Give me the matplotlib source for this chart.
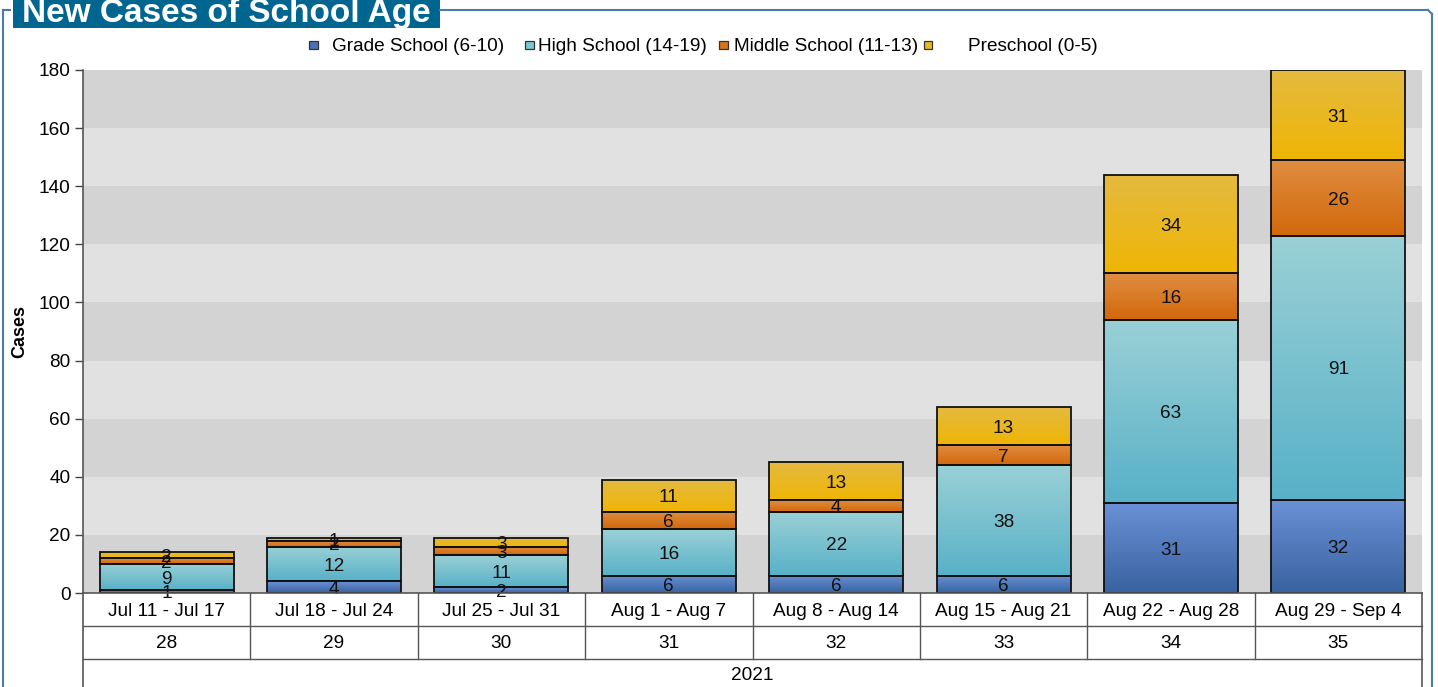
import numpy as np
import matplotlib
matplotlib.use("Agg")
import matplotlib.pyplot as plt
from matplotlib.patches import Rectangle
from matplotlib.colors import LinearSegmentedColormap

plt.rcParams['font.family'] = ['Liberation Sans', 'DejaVu Sans']

weeks = ["Jul 11 - Jul 17", "Jul 18 - Jul 24", "Jul 25 - Jul 31", "Aug 1 - Aug 7",
         "Aug 8 - Aug 14", "Aug 15 - Aug 21", "Aug 22 - Aug 28", "Aug 29 - Sep 4"]
week_numbers = ["28", "29", "30", "31", "32", "33", "34", "35"]
year_label = "2021"
series_names = ["Grade School (6-10)", "High School (14-19)", "Middle School (11-13)", "Preschool (0-5)"]
grade_school = [1, 4, 2, 6, 6, 6, 31, 32]
high_school = [9, 12, 11, 16, 22, 38, 63, 91]
middle_school = [2, 2, 3, 6, 4, 7, 16, 26]
preschool = [2, 1, 3, 11, 13, 13, 34, 31]
yticks = [0, 20, 40, 60, 80, 100, 120, 140, 160, 180]

series = [grade_school, high_school, middle_school, preschool]
# (top colour, bottom colour) of each gradient
grads = [("#6b90d6", "#3963a0"), ("#9ad0d6", "#58b1c8"),
         ("#e08d40", "#d2680c"), ("#e4ba40", "#efb505")]
legend_cols = ["#4a72b8", "#7ec6d2", "#d9741c", "#eab820"]

FS = 13.7
HALF_CAP_PT = 4.8  # half cap height in points, to centre digits/caps

W, H = 1438, 687
fig = plt.figure(figsize=(W / 100, H / 100), dpi=100)

def fx(x):
    return x / W

def fy(y):
    return 1 - y / H

ax_l, ax_r, ax_t, ax_b = 83, 1422, 70, 593
ax = fig.add_axes([fx(ax_l), fy(ax_b), fx(ax_r) - fx(ax_l), fy(ax_t) - fy(ax_b)])
ax.set_xlim(-0.5, len(weeks) - 0.5)
ax.set_ylim(0, 180)

# alternating bands
for i in range(len(yticks) - 1):
    ax.axhspan(yticks[i], yticks[i + 1], color="#d3d3d3" if i % 2 == 0 else "#e1e1e1",
               zorder=0, lw=0)

x = np.arange(len(weeks))
bw = 0.8
bottom = np.zeros(len(weeks))
for k, vals in enumerate(series):
    vals = np.array(vals, dtype=float)
    bars = ax.bar(x, vals, bw, bottom=bottom, facecolor="none", edgecolor="#111111",
                  linewidth=1.3, zorder=3)
    cmap = LinearSegmentedColormap.from_list("g%d" % k, [grads[k][1], grads[k][0]])
    for b, v, b0 in zip(bars, vals, bottom):
        x0 = b.get_x()
        grad = np.linspace(0, 1, 64).reshape(-1, 1)
        im = ax.imshow(grad, cmap=cmap, origin="lower", aspect="auto",
                       extent=[x0, x0 + bw, b0, b0 + v], zorder=2, interpolation="bilinear")
        im.set_clip_path(b)
        ax.annotate("%d" % v, (b.get_x() + bw / 2, b0 + v / 2), xytext=(0, -HALF_CAP_PT),
                    textcoords="offset points", ha="center", va="baseline",
                    fontsize=FS, color="#111111", zorder=5)
    bottom += vals

ax.set_xlim(-0.5, len(weeks) - 0.5)
ax.set_ylim(0, 180)
ax.set_yticks(yticks)
ax.set_yticklabels([str(t) for t in yticks], fontsize=FS)
ax.tick_params(axis="y", length=6, width=1, color="#444444", pad=3)
ax.set_xticks([])
for s in ["top", "right", "bottom"]:
    ax.spines[s].set_visible(False)
ax.spines["left"].set_color("#555555")
ax.spines["left"].set_linewidth(1.2)
fig.text(fx(20), fy(331), "Cases", rotation=90, ha="center", va="center",
         fontsize=13, fontweight="bold")

# category table below the axis
line_c = "#555555"
fig.add_artist(plt.Line2D([fx(ax_l), fx(ax_r)], [fy(593), fy(593)], color=line_c, lw=1.2))
fig.add_artist(plt.Line2D([fx(ax_l), fx(ax_r)], [fy(626), fy(626)], color=line_c, lw=1))
fig.add_artist(plt.Line2D([fx(ax_l), fx(ax_r)], [fy(659), fy(659)], color=line_c, lw=1))
for xx in [ax_l, ax_r]:
    fig.add_artist(plt.Line2D([fx(xx), fx(xx)], [fy(593), 0], color=line_c, lw=1.2))
cw = (ax_r - ax_l) / len(weeks)
for i in range(1, len(weeks)):
    xx = ax_l + i * cw
    fig.add_artist(plt.Line2D([fx(xx), fx(xx)], [fy(593), fy(659)], color=line_c, lw=1))
for i in range(len(weeks)):
    cx = ax_l + (i + 0.5) * cw
    fig.text(fx(cx), fy(616), weeks[i], ha="center", va="baseline", fontsize=FS)
    fig.text(fx(cx), fy(647.5), week_numbers[i], ha="center", va="baseline", fontsize=FS)
fig.text(fx((ax_l + ax_r) / 2), fy(680), year_label, ha="center", va="baseline", fontsize=FS)

# legend
leg_marker_x = [313, 529, 723, 928]
leg_text_x = [332, 538, 734, 968]
for nm, mx, tx, c in zip(series_names, leg_marker_x, leg_text_x, legend_cols):
    fig.add_artist(Rectangle((fx(mx - 4.5), fy(49)), fx(9), 8 / H, facecolor=c,
                             edgecolor="#333333", lw=0.9))
    fig.text(fx(tx), fy(51), nm, ha="left", va="baseline", fontsize=FS)

# outer frame
frame_c = "#4a7ab0"
fig.add_artist(plt.Line2D([fx(3), fx(3)], [fy(14), 0], color=frame_c, lw=1.5))
fig.add_artist(plt.Line2D([fx(3), fx(10)], [fy(10), fy(10)], color=frame_c, lw=1.5))
fig.add_artist(plt.Line2D([fx(440), fx(1428)], [fy(10), fy(10)], color=frame_c, lw=1.5))
fig.add_artist(plt.Line2D([fx(1432), fx(1432)], [fy(14), 0], color=frame_c, lw=1.5))
fig.add_artist(plt.Line2D([fx(3), fx(3)], [fy(14), fy(10)], color=frame_c, lw=1.5))
fig.add_artist(plt.Line2D([fx(1428), fx(1432)], [fy(10), fy(14)], color=frame_c, lw=1.5))

# title box
fig.add_artist(Rectangle((fx(13), fy(28)), fx(440) - fx(13), 30 / H, facecolor="#006690",
                         edgecolor="none"))
fig.text(fx(22), fy(22), "New Cases of School Age", ha="left", va="baseline",
         fontsize=24, fontweight="bold", color="white")

fig.savefig("out.png", dpi=100)
